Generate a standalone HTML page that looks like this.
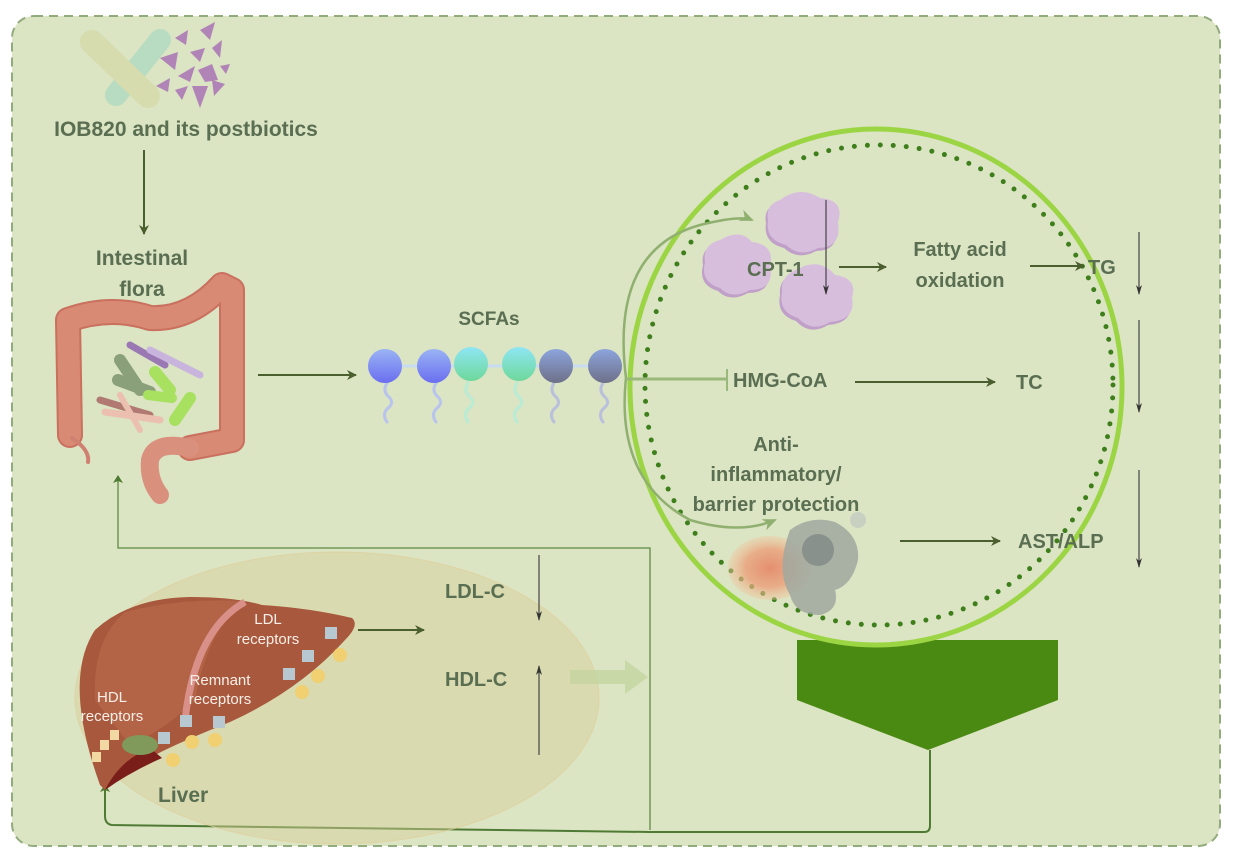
<!DOCTYPE html>
<html><head><meta charset="utf-8">
<style>
html,body{margin:0;padding:0;background:#fff;width:1238px;height:862px;overflow:hidden}
svg{display:block}
text{font-family:"Liberation Sans",Arial,sans-serif;font-weight:bold;fill:#5a6e52}
text.w{fill:#f7efe8;font-weight:normal}
</style></head><body>
<svg width="1238" height="862" viewBox="0 0 1238 862" xmlns="http://www.w3.org/2000/svg">
<defs>
<marker id="ah" markerWidth="10" markerHeight="10" refX="9" refY="5" orient="auto" markerUnits="userSpaceOnUse"><path d="M0,0 L10,5 L0,10 L3,5z" fill="#4b5e2e"/></marker>
<marker id="ahs" markerWidth="8" markerHeight="10" refX="7" refY="5" orient="auto" markerUnits="userSpaceOnUse"><path d="M0,0 L8,5 L0,10 L2,5z" fill="#4f7a33"/></marker>
<marker id="ahb" markerWidth="10" markerHeight="6" refX="9" refY="3" orient="auto" markerUnits="userSpaceOnUse"><path d="M0,0 L10,3 L0,6 L3,3z" fill="#333"/></marker>
<marker id="ahl" markerWidth="16" markerHeight="16" refX="12" refY="8" orient="auto" markerUnits="userSpaceOnUse"><path d="M0,2 L14,8 L0,14 L4,8z" fill="#90b070"/></marker>
<linearGradient id="blue" x1="0" y1="0" x2="0" y2="1"><stop offset="0" stop-color="#9ab4f4"/><stop offset="1" stop-color="#6a6ef0"/></linearGradient>
<linearGradient id="teal" x1="0" y1="0" x2="0" y2="1"><stop offset="0" stop-color="#8ee6f4"/><stop offset="1" stop-color="#6ed89a"/></linearGradient>
<linearGradient id="grey" x1="0" y1="0" x2="0" y2="1"><stop offset="0" stop-color="#8ca4dc"/><stop offset="1" stop-color="#6e7088"/></linearGradient>
<radialGradient id="infl"><stop offset="0" stop-color="#e77a5a"/><stop offset=".6" stop-color="#eba07a"/><stop offset="1" stop-color="#f0c8a0" stop-opacity=".5"/></radialGradient>
</defs>
<rect x="12" y="16" width="1208" height="830" rx="22" fill="#dbe4c3" stroke="#92ab7c" stroke-width="2" stroke-dasharray="9,6"/>

<!-- pill -->
<line x1="116" y1="95" x2="160" y2="40" stroke="#b8dcc2" stroke-width="22" stroke-linecap="round"/>
<line x1="92" y1="42" x2="148" y2="96" stroke="#d6dcae" stroke-width="24" stroke-linecap="round"/>
<g fill="#b084b6">
<polygon points="175,38 188,30 186,45"/><polygon points="200,30 215,22 210,40"/><polygon points="160,58 178,52 175,70"/>
<polygon points="190,52 205,48 200,62"/><polygon points="212,48 222,40 220,58"/><polygon points="178,76 195,66 190,82"/>
<polygon points="198,70 212,64 218,80 205,82"/><polygon points="220,66 230,64 226,74"/><polygon points="175,90 188,86 182,100"/>
<polygon points="192,86 208,86 200,108"/><polygon points="212,80 225,84 214,96"/><polygon points="156,86 170,78 168,92"/>
</g>
<text x="186" y="136" font-size="21" text-anchor="middle">IOB820 and its postbiotics</text>
<line x1="144" y1="150" x2="144" y2="234" stroke="#4b5e2e" stroke-width="2" marker-end="url(#ah)"/>
<text x="142" y="265" font-size="21" text-anchor="middle">Intestinal</text>
<text x="142" y="296" font-size="21" text-anchor="middle">flora</text>

<!-- colon -->
<g fill="none" stroke-linecap="round" stroke-linejoin="round">
<path d="M70,435 L68,320 Q110,305 150,318 Q190,320 222,285 L232,290 L232,440 L190,448" stroke="#c9705e" stroke-width="26"/>
<path d="M70,435 L68,320 Q110,305 150,318 Q190,320 222,285 L232,290 L232,440 L190,448" stroke="#d98a75" stroke-width="22"/>
<path d="M190,448 Q155,440 150,460 Q148,480 160,495" stroke="#d9917e" stroke-width="18"/>
<path d="M72,438 Q90,450 88,462" stroke="#d08070" stroke-width="4"/>
</g>
<g stroke-linecap="round">
<line x1="118" y1="380" x2="150" y2="392" stroke="#8aa07a" stroke-width="12"/>
<line x1="120" y1="360" x2="140" y2="390" stroke="#8aa07a" stroke-width="12"/>
<line x1="155" y1="372" x2="170" y2="390" stroke="#a8e060" stroke-width="12"/>
<line x1="190" y1="398" x2="175" y2="420" stroke="#a8e060" stroke-width="12"/>
<line x1="148" y1="395" x2="172" y2="398" stroke="#a8e060" stroke-width="10"/>
<line x1="130" y1="345" x2="165" y2="365" stroke="#9a78b4" stroke-width="7"/>
<line x1="150" y1="350" x2="200" y2="375" stroke="#c8b4dc" stroke-width="7"/>
<line x1="100" y1="400" x2="150" y2="415" stroke="#b07a72" stroke-width="7"/>
<line x1="105" y1="412" x2="160" y2="420" stroke="#ecc0b0" stroke-width="7"/>
<line x1="120" y1="395" x2="140" y2="430" stroke="#ecc0b0" stroke-width="6"/>
</g>

<line x1="258" y1="375" x2="356" y2="375" stroke="#4b5e2e" stroke-width="2" marker-end="url(#ah)"/>
<text x="489" y="325" font-size="19" text-anchor="middle">SCFAs</text>
<g fill="none" stroke-width="3" stroke-linecap="round">
<path d="M387,383 q-5,8 2,14 q6,6 -2,12 q-5,6 0,13" stroke="#b8c4ee"/>
<path d="M436,383 q-5,8 2,14 q6,6 -2,12 q-5,6 0,13" stroke="#b8c4ee"/>
<path d="M468,383 q-5,8 2,14 q6,6 -2,12 q-5,6 0,13" stroke="#b8ecd4"/>
<path d="M517,383 q-5,8 2,14 q6,6 -2,12 q-5,6 0,13" stroke="#b8ecd4"/>
<path d="M554,383 q-5,8 2,14 q6,6 -2,12 q-5,6 0,13" stroke="#b8c0dc"/>
<path d="M603,383 q-5,8 2,14 q6,6 -2,12 q-5,6 0,13" stroke="#b8c0dc"/>
<line x1="385" y1="366" x2="605" y2="366" stroke="#c8dcf0"/>
</g>
<circle cx="385" cy="366" r="17" fill="url(#blue)"/><circle cx="434" cy="366" r="17" fill="url(#blue)"/>
<circle cx="471" cy="364" r="17" fill="url(#teal)"/><circle cx="519" cy="364" r="17" fill="url(#teal)"/>
<circle cx="556" cy="366" r="17" fill="url(#grey)"/><circle cx="605" cy="366" r="17" fill="url(#grey)"/>

<polyline points="650,830 650,548 118,548 118,476" fill="none" stroke="#5e8a44" stroke-width="1.3" marker-end="url(#ahs)"/>
<path d="M930,750 L930,826 Q930,832 924,832 L650,832 L112,825 Q105,824 105,816 L105,785" fill="none" stroke="#4f7a33" stroke-width="2" marker-end="url(#ahs)"/>

<ellipse cx="337" cy="698" rx="262" ry="146" fill="#d6cf9a" fill-opacity=".45" stroke="#e0cf9a" stroke-opacity=".7"/>
<!-- liver -->
<path d="M100,785 Q62,680 95,630 Q130,598 190,597 Q235,597 262,605 Q310,608 352,618 Q360,625 345,640 Q300,690 230,722 Q180,742 155,755 Q125,775 105,790 Z" fill="#a8583c"/>
<path d="M95,700 Q92,640 125,612 Q180,598 240,601 Q205,640 195,700 Q165,730 130,745 Z" fill="#b8694c" opacity=".7"/>
<path d="M105,790 Q120,760 150,748 L162,758 Q130,772 105,790Z" fill="#7a1e1a"/>
<path d="M245,602 Q195,630 185,720" fill="none" stroke="#d99088" stroke-width="7"/>
<ellipse cx="140" cy="745" rx="18" ry="10" fill="#7f9a5a"/>
<g fill="#f2d9a4"><rect x="92" y="752" width="9" height="10"/><rect x="100" y="740" width="9" height="10"/><rect x="110" y="730" width="9" height="10"/></g>
<g fill="#b8c8d0"><rect x="325" y="627" width="12" height="12"/><rect x="302" y="650" width="12" height="12"/><rect x="283" y="668" width="12" height="12"/><rect x="213" y="716" width="12" height="12"/><rect x="180" y="715" width="12" height="12"/><rect x="158" y="732" width="12" height="12"/></g>
<g fill="#f0d070"><circle cx="340" cy="655" r="7"/><circle cx="318" cy="676" r="7"/><circle cx="302" cy="692" r="7"/><circle cx="215" cy="740" r="7"/><circle cx="192" cy="742" r="7"/><circle cx="173" cy="760" r="7"/></g>
<text class="w" x="268" y="624" font-size="15" text-anchor="middle">LDL</text>
<text class="w" x="268" y="644" font-size="15" text-anchor="middle">receptors</text>
<text class="w" x="220" y="685" font-size="15" text-anchor="middle">Remnant</text>
<text class="w" x="220" y="704" font-size="15" text-anchor="middle">receptors</text>
<text class="w" x="112" y="702" font-size="15" text-anchor="middle">HDL</text>
<text class="w" x="112" y="721" font-size="15" text-anchor="middle">receptors</text>
<text x="158" y="802" font-size="21">Liver</text>
<line x1="358" y1="630" x2="424" y2="630" stroke="#4b5e2e" stroke-width="2" marker-end="url(#ah)"/>
<text x="445" y="598" font-size="20">LDL-C</text>
<text x="445" y="686" font-size="20">HDL-C</text>
<line x1="539" y1="555" x2="539" y2="620" stroke="#444" stroke-width="1.2" marker-end="url(#ahb)"/>
<line x1="539" y1="755" x2="539" y2="666" stroke="#444" stroke-width="1.2" marker-end="url(#ahb)"/>
<path d="M570,670 L625,670 L625,660 L648,677 L625,694 L625,684 L570,684 Z" fill="#c4d4a0" opacity=".8"/>

<path d="M797,640 L1058,640 L1058,700 L928,750 L797,700 Z" fill="#4a8a12"/>
<ellipse cx="876" cy="387" rx="246" ry="258" fill="#dbe4c3" stroke="#9cd544" stroke-width="5"/>
<ellipse cx="879" cy="385" rx="234" ry="240" fill="none" stroke="#3e7f1c" stroke-width="5" stroke-dasharray="0,13" stroke-linecap="round"/>

<path d="M626,378 Q610,250 700,225 Q740,215 752,220" fill="none" stroke="#90b070" stroke-width="2.5" marker-end="url(#ahl)"/>
<path d="M626,378 Q615,480 690,520 Q740,535 775,520" fill="none" stroke="#90b070" stroke-width="2.5" marker-end="url(#ahl)"/>
<line x1="626" y1="379" x2="726" y2="379" stroke="#9ab87a" stroke-width="3"/>
<line x1="727" y1="369" x2="727" y2="391" stroke="#9ab87a" stroke-width="2"/>

<g fill="#c0a0c8"><path d="M780,200 Q800,185 820,198 Q845,200 838,222 Q842,248 818,248 Q800,258 786,245 Q765,240 768,220 Q765,205 780,200Z" transform="translate(-2,3)"/>
<path d="M720,240 Q740,228 752,242 Q775,245 770,265 Q775,290 750,290 Q732,300 720,288 Q700,282 705,262 Q702,245 720,240Z" transform="translate(-2,3)"/>
<path d="M800,268 Q820,258 835,275 Q858,278 852,298 Q856,320 830,322 Q812,333 798,318 Q778,312 782,292 Q780,275 800,268Z" transform="translate(-2,3)"/></g>
<g fill="#d7bedd"><path d="M780,200 Q800,185 820,198 Q845,200 838,222 Q842,248 818,248 Q800,258 786,245 Q765,240 768,220 Q765,205 780,200Z"/>
<path d="M720,240 Q740,228 752,242 Q775,245 770,265 Q775,290 750,290 Q732,300 720,288 Q700,282 705,262 Q702,245 720,240Z"/>
<path d="M800,268 Q820,258 835,275 Q858,278 852,298 Q856,320 830,322 Q812,333 798,318 Q778,312 782,292 Q780,275 800,268Z"/></g>
<text x="747" y="276" font-size="20">CPT-1</text>
<line x1="826" y1="200" x2="826" y2="294" stroke="#444" stroke-width="1.2" marker-end="url(#ahb)"/>
<line x1="839" y1="267" x2="886" y2="267" stroke="#4b5e2e" stroke-width="2" marker-end="url(#ah)"/>
<text x="960" y="256" font-size="20" text-anchor="middle">Fatty acid</text>
<text x="960" y="287" font-size="20" text-anchor="middle">oxidation</text>
<line x1="1030" y1="266" x2="1084" y2="266" stroke="#4b5e2e" stroke-width="2" marker-end="url(#ah)"/>
<text x="1088" y="274" font-size="20">TG</text>
<line x1="1139" y1="232" x2="1139" y2="294" stroke="#444" stroke-width="1.2" marker-end="url(#ahb)"/>

<text x="733" y="387" font-size="20">HMG-CoA</text>
<line x1="855" y1="382" x2="995" y2="382" stroke="#4b5e2e" stroke-width="2" marker-end="url(#ah)"/>
<text x="1016" y="389" font-size="20">TC</text>
<line x1="1139" y1="320" x2="1139" y2="412" stroke="#444" stroke-width="1.2" marker-end="url(#ahb)"/>

<text x="776" y="451" font-size="20" text-anchor="middle">Anti-</text>
<text x="776" y="481" font-size="20" text-anchor="middle">inflammatory/</text>
<text x="776" y="511" font-size="20" text-anchor="middle">barrier protection</text>
<ellipse cx="770" cy="568" rx="42" ry="32" fill="url(#infl)" opacity=".8"/>
<path d="M790,530 Q810,515 835,522 Q860,535 858,560 Q852,585 835,590 Q840,610 820,615 Q795,615 790,595 Q775,570 790,530Z" fill="#a0a8a0" opacity=".85"/>
<circle cx="818" cy="550" r="16" fill="#7f8a84" opacity=".8"/>
<circle cx="858" cy="520" r="8" fill="#c0c8c0" opacity=".7"/>
<line x1="900" y1="541" x2="1000" y2="541" stroke="#4b5e2e" stroke-width="2" marker-end="url(#ah)"/>
<text x="1018" y="548" font-size="20">AST/ALP</text>
<line x1="1139" y1="470" x2="1139" y2="567" stroke="#444" stroke-width="1.2" marker-end="url(#ahb)"/>
</svg>
</body></html>
